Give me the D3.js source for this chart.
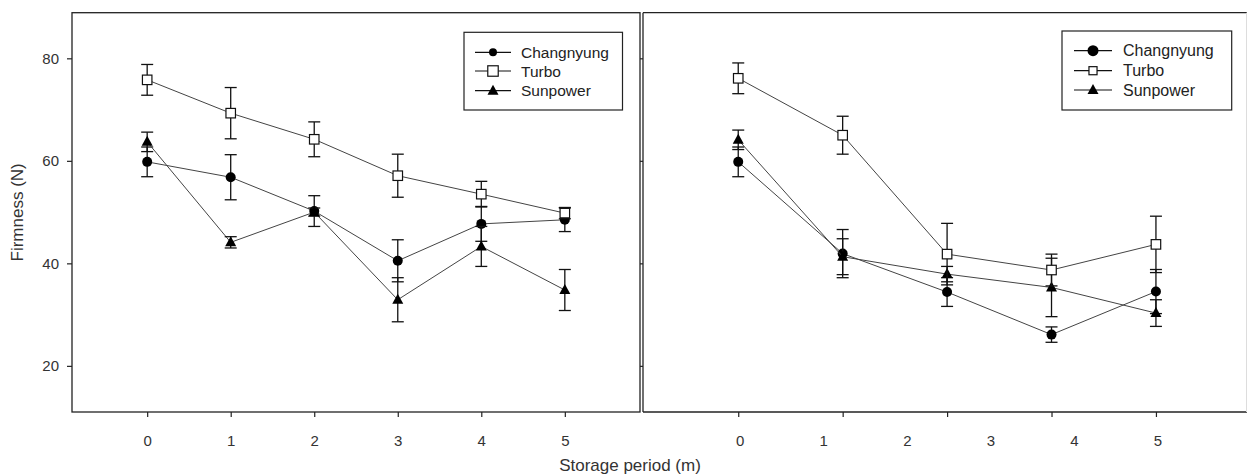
<!DOCTYPE html>
<html lang="en">
<head>
<meta charset="utf-8">
<title>Firmness during storage</title>
<script src="https://cdn.jsdelivr.net/npm/d3@7"></script>
<style>
  body { margin: 0; background: #fff; }
  svg { font-family: Arial, "Liberation Sans", sans-serif; }
  .frame { fill: none; stroke: #222; stroke-width: 1.3; }
  .link { fill: none; stroke: #444; stroke-width: 1; }
  .err { stroke: #111; stroke-width: 1.3; }
  .axis text { fill: #333; font-size: 15px; }
  .axis path { display: none; }
  .axis line { stroke: #222; stroke-width: 1.2; }
  .legend text { fill: #222; }
</style>
</head>
<body>
<script>
// storage months
var months = [0, 1, 2, 3, 4, 5];
var monthsRight = [0, 1.25, 2.5, 3.75, 5];
var yTicks = [20, 40, 60, 80];
var cultivars = ["Changnyung", "Turbo", "Sunpower"];

// left panel
var changLeft = [59.8, 56.8, 50.2, 40.5, 47.7, 48.5];
var changLeftErr = [2.9, 4.4, 3.0, 4.1, 3.4, 2.3];
var turboLeft = [75.8, 69.3, 64.2, 57.1, 53.5, 49.8];
var turboLeftErr = [3.0, 5.0, 3.4, 4.2, 2.5, 1.1];
var sunLeft = [63.7, 44.1, 50.0, 32.9, 43.3, 34.8];
var sunLeftErr = [1.9, 1.1, 0.8, 4.3, 3.9, 4.0];

// right panel
var changRight = [59.8, 41.9, 34.4, 26.1, 34.5];
var changRightErr = [2.9, 4.7, 2.8, 1.5, 4.3];
var turboRight = [76.1, 65.0, 41.8, 38.7, 43.7];
var turboRightErr = [3.0, 3.7, 6.0, 3.1, 5.5];
var sunRight = [64.1, 41.3, 37.9, 35.3, 30.3];
var sunRightErr = [1.9, 3.5, 1.5, 5.7, 2.6];

var W = 1248, H = 476;
var yTop = 12.7, yBottom = 412;

var svg = d3.select("body").append("svg")
  .attr("width", W)
  .attr("height", H);

var y = d3.scaleLinear().domain([11, 88.9]).range([yBottom, yTop]);

var xL = d3.scaleLinear().domain([-0.9, 5.9]).range([72, 640]);
var xR = d3.scaleLinear().domain([-1.14, 6.09]).range([643, 1247]);

var shapes = {
  Changnyung: "circle",
  Turbo: "square",
  Sunpower: "triangle"
};

function marker(g, kind, cx, cy, s) {
  if (kind === "circle") {
    g.append("circle").attr("cx", cx).attr("cy", cy).attr("r", 5 * s)
      .attr("fill", "#000");
  } else if (kind === "square") {
    var a = 9.5 * s;
    g.append("rect").attr("x", cx - a / 2).attr("y", cy - a / 2)
      .attr("width", a).attr("height", a)
      .attr("fill", "#fff").attr("stroke", "#111").attr("stroke-width", 1.2);
  } else {
    var h = 10 * s, w = 11 * s;
    g.append("path")
      .attr("d", "M" + cx + "," + (cy - h * 0.6) + "L" + (cx + w / 2) + "," + (cy + h * 0.4) +
        "L" + (cx - w / 2) + "," + (cy + h * 0.4) + "Z")
      .attr("fill", "#000");
  }
}

function drawSeries(g, x, xs, vals, errs, kind) {
  var line = d3.line()
    .x(function(d, i) { return x(xs[i]); })
    .y(function(d) { return y(d); });
  g.append("path").attr("class", "link").attr("d", line(vals));

  vals.forEach(function(v, i) {
    var cx = x(xs[i]);
    var y1 = y(v + errs[i]), y2 = y(v - errs[i]);
    g.append("line").attr("class", "err")
      .attr("x1", cx).attr("x2", cx).attr("y1", y1).attr("y2", y2);
    [y1, y2].forEach(function(yy) {
      g.append("line").attr("class", "err")
        .attr("x1", cx - 6).attr("x2", cx + 6).attr("y1", yy).attr("y2", yy);
    });
  });
  vals.forEach(function(v, i) {
    marker(g, kind, x(xs[i]), y(v), 1);
  });
}

function legend(x0, y0, w, h, rowY, lineX1, lineX2, symX, textX, fs, sizes) {
  var g = svg.append("g").attr("class", "legend");
  g.append("rect").attr("x", x0).attr("y", y0).attr("width", w).attr("height", h)
    .attr("fill", "#fff").attr("stroke", "#222").attr("stroke-width", 1.2);
  cultivars.forEach(function(c, i) {
    var yy = rowY[i];
    g.append("line").attr("x1", lineX1).attr("x2", lineX2).attr("y1", yy).attr("y2", yy)
      .attr("stroke", "#111").attr("stroke-width", 1.2);
    marker(g, shapes[c], symX, yy, sizes[i]);
    g.append("text").attr("x", textX).attr("y", yy).attr("dy", "0.36em")
      .attr("font-size", fs).text(c);
  });
}

var fmt = d3.format("d");

// ---- left panel ----
svg.append("rect").attr("class", "frame")
  .attr("x", 72).attr("y", yTop).attr("width", 640 - 72).attr("height", yBottom - yTop);

svg.append("g").attr("class", "axis")
  .attr("transform", "translate(72,0)")
  .call(d3.axisLeft(y).tickValues(yTicks).tickSize(5).tickPadding(8).tickFormat(fmt));

svg.append("g").attr("class", "axis")
  .attr("transform", "translate(0," + yBottom + ")")
  .call(d3.axisBottom(xL).tickValues(months).tickSize(5).tickPadding(18).tickFormat(fmt));

var gL = svg.append("g");
drawSeries(gL, xL, months, changLeft, changLeftErr, "circle");
drawSeries(gL, xL, months, sunLeft, sunLeftErr, "triangle");
drawSeries(gL, xL, months, turboLeft, turboLeftErr, "square");

legend(464, 32.3, 158.5, 77.7, [52.3, 71, 90.7], 475, 511, 493, 521, "15.5px", [0.8, 1.1, 1]);

// ---- right panel ----
svg.append("line").attr("class", "frame")
  .attr("x1", 643).attr("x2", 1247).attr("y1", yTop).attr("y2", yTop);
svg.append("line").attr("class", "frame")
  .attr("x1", 643).attr("x2", 1247).attr("y1", yBottom).attr("y2", yBottom);
svg.append("line").attr("class", "frame")
  .attr("x1", 643).attr("x2", 643).attr("y1", yTop).attr("y2", yBottom);
svg.append("line")
  .attr("x1", 1246.5).attr("x2", 1246.5).attr("y1", yTop).attr("y2", yBottom)
  .attr("stroke", "#ddd").attr("stroke-width", 1);

svg.append("g").attr("class", "axis")
  .attr("transform", "translate(643,0)")
  .call(d3.axisLeft(y).tickValues(yTicks).tickSize(3).tickFormat(""));

// tick marks sit at the sampling points, labels at whole months
svg.append("g").attr("class", "axis")
  .attr("transform", "translate(0," + yBottom + ")")
  .call(d3.axisBottom(xR).tickValues(monthsRight).tickSize(5).tickFormat(""));
svg.append("g").attr("class", "axis")
  .attr("transform", "translate(1.5," + yBottom + ")")
  .call(d3.axisBottom(xR).tickValues(months).tickSize(0).tickPadding(23).tickFormat(fmt));

var gR = svg.append("g");
drawSeries(gR, xR, monthsRight, changRight, changRightErr, "circle");
drawSeries(gR, xR, monthsRight, sunRight, sunRightErr, "triangle");
drawSeries(gR, xR, monthsRight, turboRight, turboRightErr, "square");

legend(1062, 31, 169.7, 79, [50.7, 70.7, 90], 1074, 1112, 1093, 1123, "16px", [1.1, 0.85, 1]);

// axis titles
svg.append("text")
  .attr("transform", "translate(23," + ((yTop + yBottom) / 2) + ") rotate(-90)")
  .attr("text-anchor", "middle")
  .attr("font-size", "17px")
  .attr("fill", "#333")
  .text("Firmness (N)");

svg.append("text")
  .attr("x", 630).attr("y", 471)
  .attr("text-anchor", "middle")
  .attr("font-size", "17px")
  .attr("fill", "#333")
  .text("Storage period (m)");
</script>
</body>
</html>
